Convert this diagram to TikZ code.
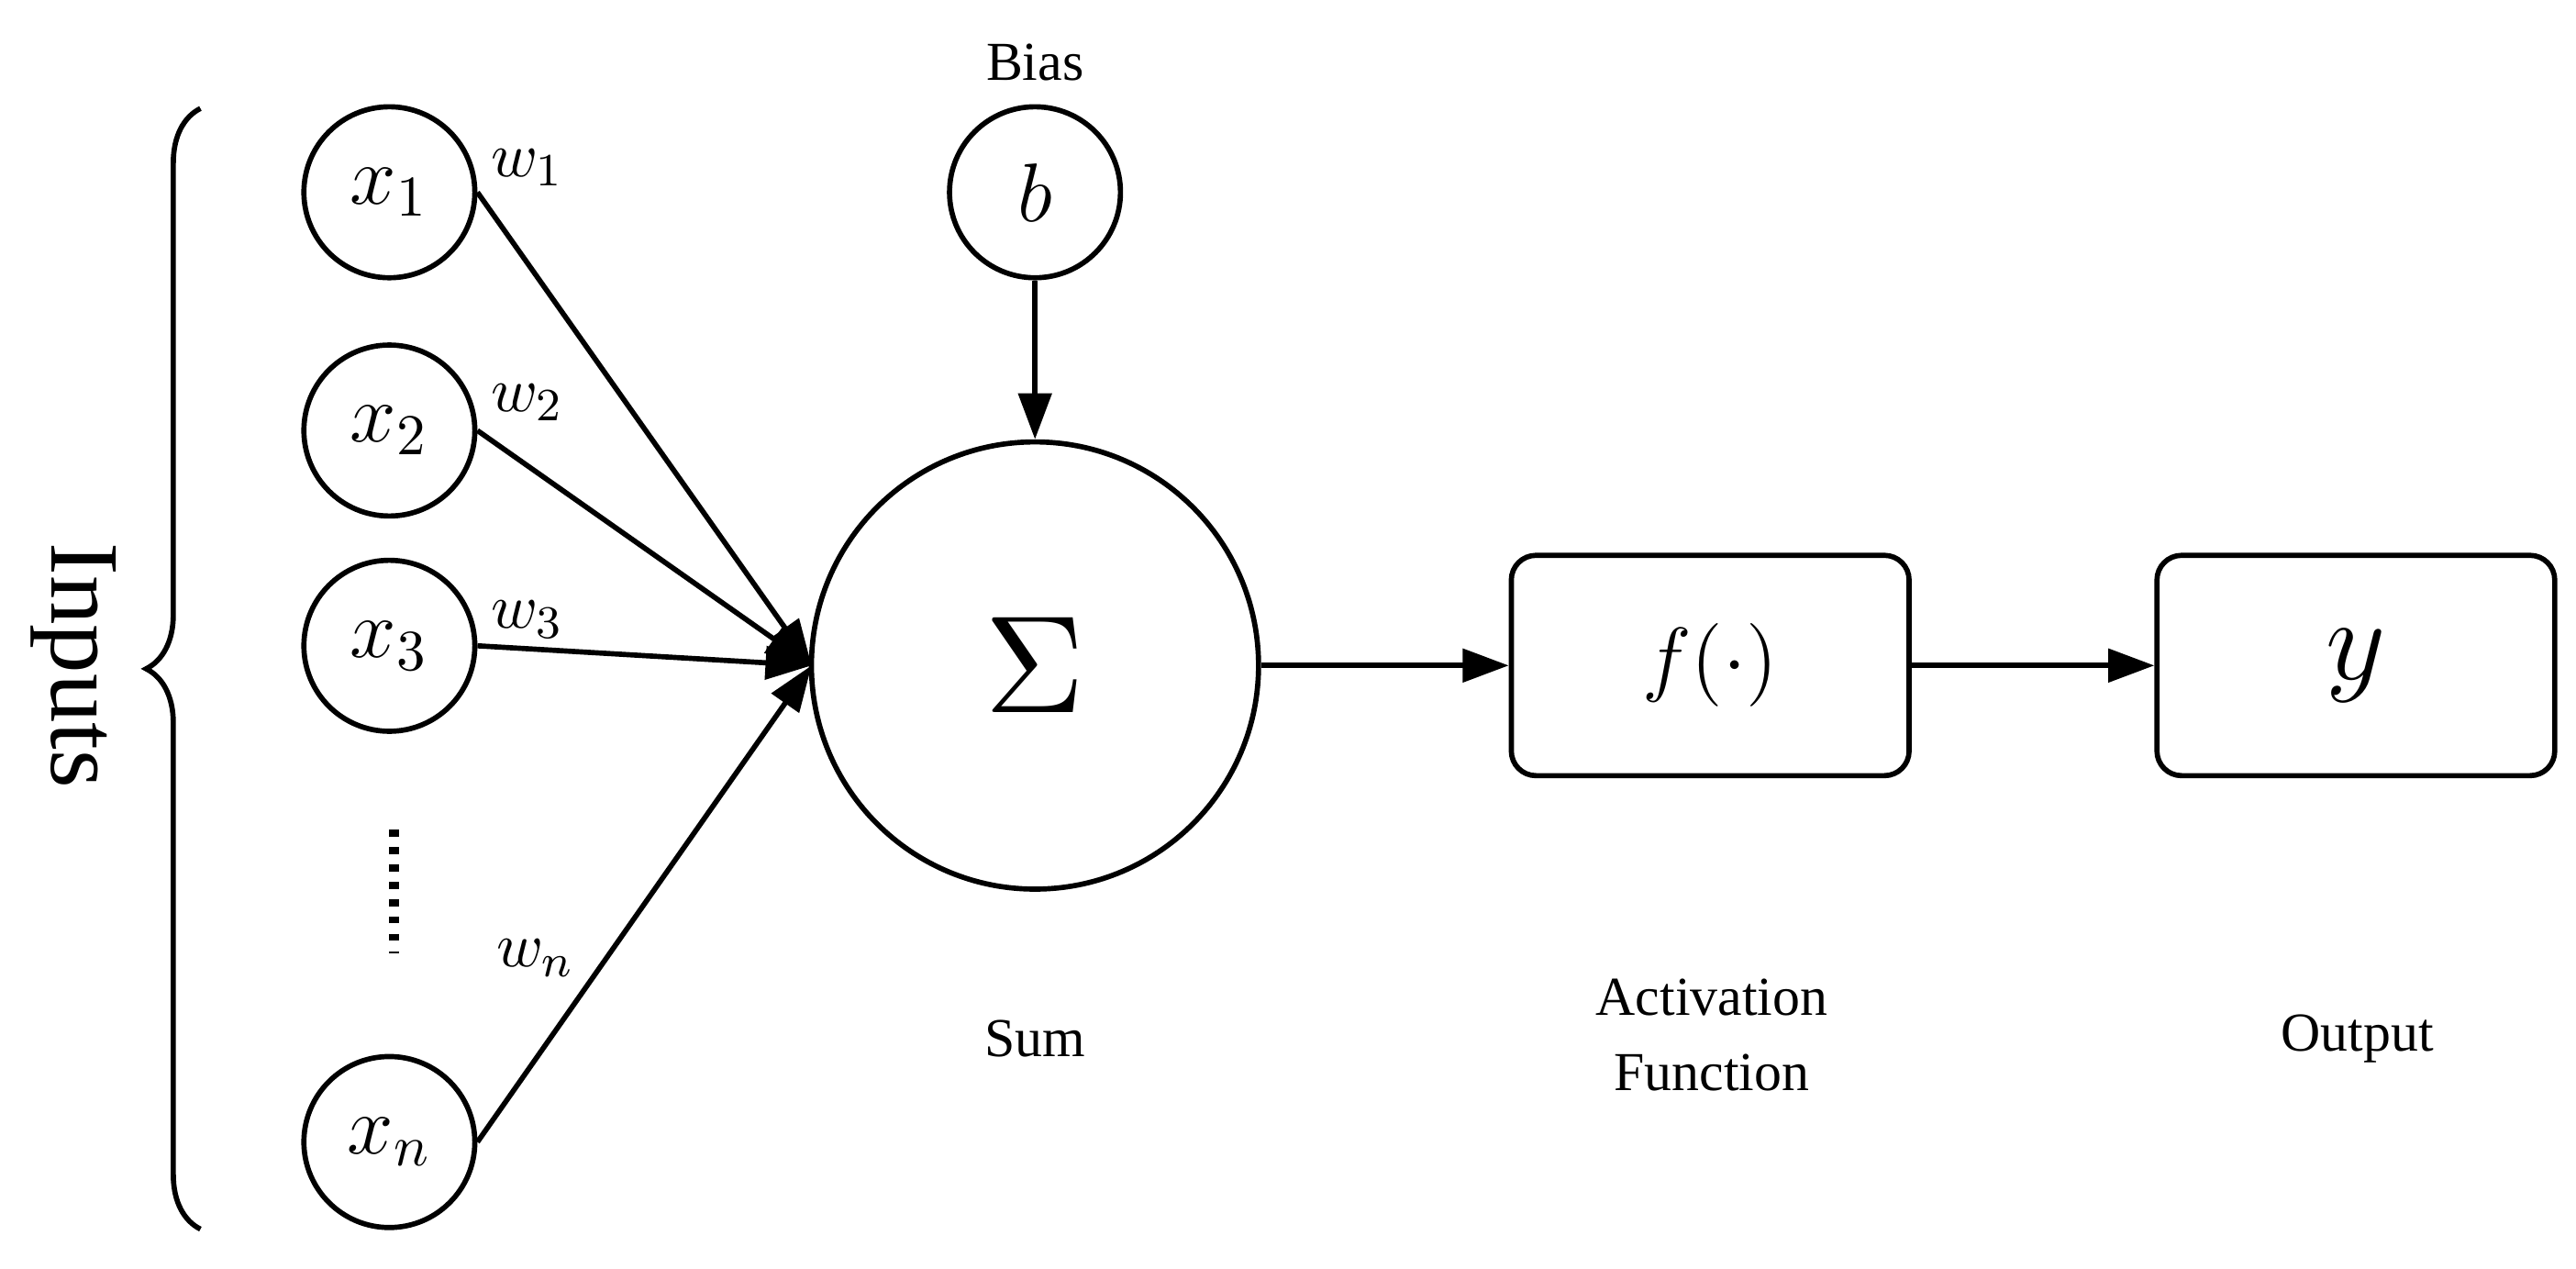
\documentclass[tikz,border=0pt]{standalone}
\usepackage{fontspec}
\setmainfont{Liberation Serif}
\usetikzlibrary{arrows.meta,decorations.pathreplacing}
\begin{document}
\begin{tikzpicture}[x=0.01cm,y=-0.01cm,
  inp/.style={circle,draw,line width=0.9pt,minimum size=1.04cm,inner sep=0pt,font=\fontsize{14}{14}\selectfont},
  box/.style={draw,line width=0.9pt,rounded corners=0.15cm,minimum width=2.42cm,minimum height=1.34cm,font=\fontsize{14}{14}\selectfont},
  lab/.style={font=\fontsize{9.5}{13}\selectfont,align=center},
  wl/.style={font=\fontsize{11}{11}\selectfont},
  arr/.style={line width=0.9pt,-{Triangle[length=0.28cm,width=0.2cm]}}]
\useasboundingbox (0,0) rectangle (1568,772);
\node[inp] (x1) at (237,117) {$x_1$};
\node[inp] (x2) at (237,262) {$x_2$};
\node[inp] (x3) at (237,393) {$x_3$};
\node[inp] (xn) at (237,695) {$x_n$};
\node[inp] (b) at (630,117) {$b$};
\node[lab] (bias) at (630,38) {Bias};
\node[circle,draw,line width=0.9pt,minimum size=2.72cm,inner sep=0pt] (s) at (630,405) {\scalebox{2.4}{$\Sigma$}};
\node[box] (f) at (1041,405) {$f(\cdot)$};
\node[box] (y) at (1434,405) {\scalebox{1.4}{$y$}};
\coordinate (c) at (494,405);
\draw[arr] (x1.east) -- (c);
\draw[arr] (x2.east) -- (c);
\draw[arr] (x3.east) -- (c);
\draw[arr] (xn.east) -- (c);
\draw[arr] (b) -- (s);
\draw[arr] (s) -- (f);
\draw[arr] (f) -- (y);
\node[wl] (w1) at (321,102) {$w_1$};
\node[wl] (w2) at (321,245) {$w_2$};
\node[wl] (w3) at (321,377) {$w_3$};
\node[wl] (wn) at (326,583) {$w_n$};
\coordinate (d1) at (240,505);
\coordinate (d2) at (240,580);
\draw[line width=1.8pt,dash pattern=on 1.2pt off 1.8pt] (d1) -- (d2);
\node[lab] (sum) at (630,632) {Sum};
\node[lab] (act) at (1042,630) {Activation\\Function};
\node[lab] (out) at (1435,632) {Output};
\coordinate (bt) at (122,748);
\coordinate (bb) at (122,66);
\draw[line width=0.9pt,decorate,decoration={brace,amplitude=0.33cm}] (bt) -- (bb);
\node[rotate=-90,font=\fontsize{17}{17}\selectfont] (inputs) at (45,405) {Inputs};
\end{tikzpicture}
\end{document}
